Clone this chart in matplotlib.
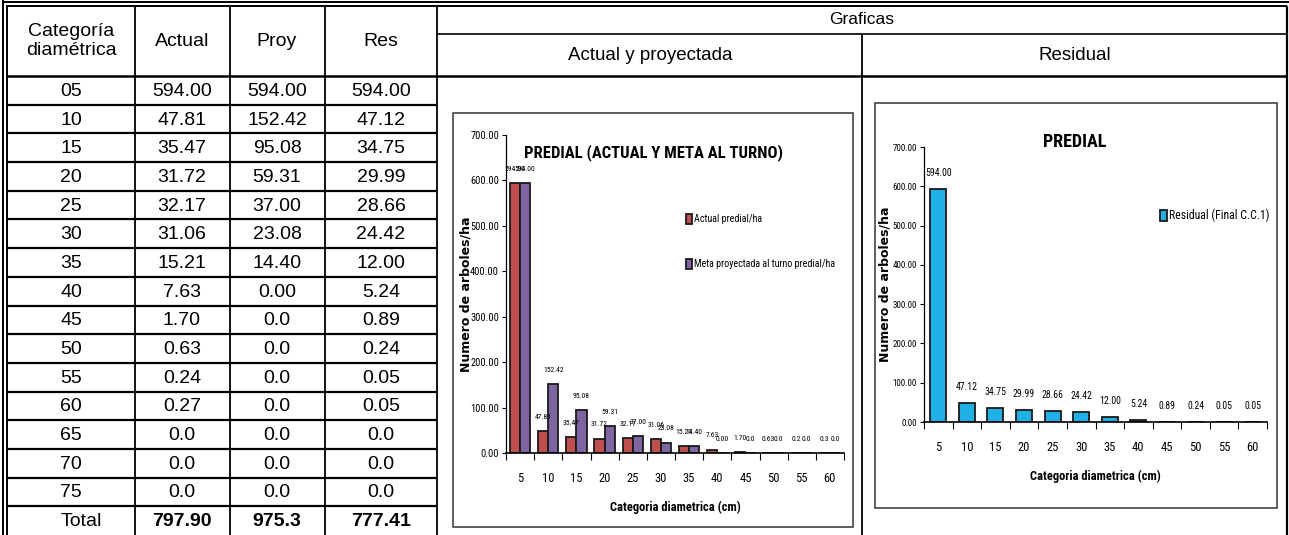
import numpy as np
import matplotlib
matplotlib.use("Agg")
import matplotlib.pyplot as plt
from matplotlib import font_manager
from matplotlib.patches import Rectangle

# ------------- DATA -------------
row_labels = ["05", "10", "15", "20", "25", "30", "35", "40", "45", "50",
              "55", "60", "65", "70", "75"]
actual_col = ["594.00", "47.81", "35.47", "31.72", "32.17", "31.06", "15.21", "7.63",
              "1.70", "0.63", "0.24", "0.27", "0.0", "0.0", "0.0"]
proy_col = ["594.00", "152.42", "95.08", "59.31", "37.00", "23.08", "14.40", "0.00",
            "0.0", "0.0", "0.0", "0.0", "0.0", "0.0", "0.0"]
res_col = ["594.00", "47.12", "34.75", "29.99", "28.66", "24.42", "12.00", "5.24",
           "0.89", "0.24", "0.05", "0.05", "0.0", "0.0", "0.0"]
totals = ["797.90", "975.3", "777.41"]

categories = ["5", "10", "15", "20", "25", "30", "35", "40", "45", "50", "55", "60"]
actual = [float(v) for v in actual_col[:12]]
proy = [float(v) for v in proy_col[:12]]
res = [float(v) for v in res_col[:12]]
actual_lbl = ["594.00", "47.81", "35.47", "31.72", "32.17", "31.06", "15.21", "7.63",
              "1.70", "0.63", "0.2", "0.3"]
proy_lbl = ["594.00", "152.42", "95.08", "59.31", "37.00", "23.08", "14.40", "0.00",
            "0.0", "0.0", "0.0", "0.0"]
res_lbl = res_col[:12]
yticks = [0, 100, 200, 300, 400, 500, 600, 700]

# ------------- FONTS -------------
names = {f.name for f in font_manager.fontManager.ttflist}
narrow, k = "DejaVu Sans", 0.75
for cand in ["Liberation Sans Narrow", "DejaVu Sans Condensed", "Roboto Condensed"]:
    if cand in names:
        narrow, k = cand, 1.0
        break
arial = "Liberation Sans" if "Liberation Sans" in names else "DejaVu Sans"

W, H = 1289, 535
fig = plt.figure(figsize=(W / 100, H / 100), dpi=100)
bg = fig.add_axes([0, 0, 1, 1], zorder=0)
bg.set_xlim(0, W)
bg.set_ylim(H, 0)
bg.axis("off")


def hline(y, x0, x1, lw=1.4):
    bg.plot([x0, x1], [y, y], color="black", lw=lw, solid_capstyle="butt")


def vline(x, y0, y1, lw=1.3):
    bg.plot([x, x], [y0, y1], color="black", lw=lw, solid_capstyle="butt")


# ------------- TABLE GRID -------------
top, head_b, row_h = 6, 76, (H - 76) / 16
hline(1.8, 3, W, lw=1.4)
hline(6, 7, 1287, lw=1.4)
vline(3.3, 0, H, lw=1.4)
vline(7.3, 5, H, lw=1.4)
for x in [135, 230, 325, 437]:
    vline(x, top, H)
vline(1287, top, H, lw=1.6)
vline(862, 34, H)
hline(34, 437, 1287, lw=1.2)
hline(head_b, 7, 1287, lw=1.8)
for i in range(1, 16):
    hline(head_b + i * row_h, 7, 437, lw=1.6)

col_x = [71, 182, 277, 381]
tkw = dict(ha="center", va="center", family=arial, fontsize=14)
bg.text(col_x[0], 41, "Categoría\ndiamétrica", linespacing=1.15, **tkw)
for x, t in zip(col_x[1:], ["Actual", "Proy", "Res"]):
    bg.text(x, 42, t, **tkw)
for i, lab in enumerate(row_labels):
    y = head_b + (i + 0.5) * row_h
    for x, t in zip(col_x, [lab, actual_col[i], proy_col[i], res_col[i]]):
        bg.text(x, y + 1, t, **tkw)
y = head_b + 15.5 * row_h
bg.text(81, y + 1, "Total", **tkw)
for x, t in zip(col_x[1:], totals):
    bg.text(x, y + 1, t, fontweight="bold", **tkw)

bg.text(862, 20, "Graficas", ha="center", va="center", family=arial, fontsize=12.5)
bg.text(650, 55, "Actual y proyectada", ha="center", va="center", family=arial, fontsize=13.5)
bg.text(1075, 55, "Residual", ha="center", va="center", family=arial, fontsize=13.5)

# chart frames
bg.add_patch(Rectangle((453, 113), 400, 414, fill=False, edgecolor="#444444", lw=1.2))
bg.add_patch(Rectangle((875, 103), 402, 405, fill=False, edgecolor="#444444", lw=1.2))


def px_axes(x0, x1, y_top, y_bot):
    return fig.add_axes([x0 / W, (H - y_bot) / H, (x1 - x0) / W, (y_bot - y_top) / H], zorder=1)


def style(ax, x0px, x1px, ytop, ybot, ylab_x, ytick_fs):
    ax.set_facecolor("none")
    ax.set_ylim(0, 700)
    ax.set_xlim(-0.5, len(categories) - 0.5)
    for s in ["top", "right"]:
        ax.spines[s].set_visible(False)
    ax.spines["left"].set_linewidth(0.9)
    ax.spines["bottom"].set_linewidth(1.2)
    ax.set_yticks(yticks)
    ax.set_yticklabels([f"{v:.2f}" for v in yticks], family=narrow, fontsize=ytick_fs * k)
    ax.tick_params(axis="y", length=3, width=0.8, pad=2)
    xs = np.arange(len(categories))
    ax.set_xticks(xs)
    ax.set_xticklabels(categories, family=narrow, fontsize=9 * k)
    ax.tick_params(axis="x", which="major", length=0, pad=14)
    ax.set_xticks(np.arange(-0.5, len(categories), 1), minor=True)
    ax.tick_params(axis="x", which="minor", length=5, width=0.8, direction="out")
    ax.set_xlabel("Categoria diametrica (cm)", family=narrow, fontweight="bold", fontsize=9 * k)
    h = ybot - ytop
    ax.xaxis.set_label_coords(0.5, -48 / h)
    ax.set_ylabel("Numero de arboles/ha", family="DejaVu Sans", fontweight="bold", fontsize=9)
    ax.yaxis.set_label_coords((ylab_x - x0px) / (x1px - x0px), 0.5)


# ------------- LEFT CHART -------------
axl = px_axes(506, 844, 135, 453)
style(axl, 506, 844, 135, 453, 472, 7.5)
xs = np.arange(len(categories))
bw = 0.36
b1 = axl.bar(xs - 0.18, actual, bw, color="#C0504D", edgecolor="#1a1a1a", lw=1.3,
             label="Actual predial/ha")
b2 = axl.bar(xs + 0.18, proy, bw, color="#8064A2", edgecolor="#1a1a1a", lw=1.3,
             label="Meta proyectada al turno predial/ha")
for bars, labs in [(b1, actual_lbl), (b2, proy_lbl)]:
    for r, t in zip(bars, labs):
        axl.annotate(t, (r.get_x() + r.get_width() / 2, r.get_height()), xytext=(0, 8),
                     textcoords="offset points", ha="center", va="bottom",
                     family=narrow, fontsize=5.5 * k)
axl.legend(loc="upper left", bbox_to_anchor=((686 - 506) / 338, (453 - 214) / 318),
           frameon=False, borderpad=0, borderaxespad=0, handlelength=0.6, handleheight=1.1,
           handletextpad=0.15, labelspacing=3.5, prop=dict(family=narrow, size=7.2 * k))
bg.text(653, 153, "PREDIAL (ACTUAL Y META AL TURNO)", ha="center", va="center",
        family=narrow, fontweight="bold", fontsize=12 * k)

# ------------- RIGHT CHART -------------
axr = px_axes(924, 1267, 147, 422)
style(axr, 924, 1267, 147, 422, 891, 6.5)
b3 = axr.bar(xs, res, 0.56, color="#1FB0E6", edgecolor="#1a1a1a", lw=1.3,
             label="Residual (Final C.C.1)")
for r, t in zip(b3, res_lbl):
    axr.annotate(t, (r.get_x() + r.get_width() / 2, r.get_height()), xytext=(0, 8),
                 textcoords="offset points", ha="center", va="bottom",
                 family=narrow, fontsize=7 * k)
axr.legend(loc="upper left", bbox_to_anchor=((1160 - 924) / 343, (422 - 209) / 275),
           frameon=False, borderpad=0, borderaxespad=0, handlelength=0.6, handleheight=1.1,
           handletextpad=0.15, prop=dict(family=narrow, size=8.5 * k))
bg.text(1075, 142, "PREDIAL", ha="center", va="center",
        family=narrow, fontweight="bold", fontsize=13 * k)

fig.savefig("out.png", dpi=100)
